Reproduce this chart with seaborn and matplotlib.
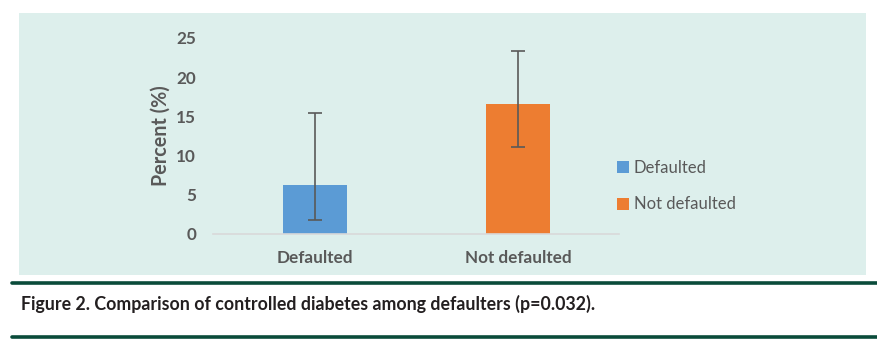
import matplotlib
matplotlib.use("Agg")
import matplotlib.pyplot as plt
import seaborn as sns
import pandas as pd
from matplotlib.patches import Rectangle
from matplotlib.lines import Line2D

categories = ["Defaulted", "Not defaulted"]
values = [6.25, 16.6]
ci_lower = [1.8, 11.05]
ci_upper = [15.4, 23.3]
yticks = [0, 5, 10, 15, 20, 25]
colors = ["#5B9BD5", "#ED7D31"]

sns.set_theme(style="white")
plt.rcParams["font.family"] = ["Lato", "DejaVu Sans"]

W, H = 878, 346
fig = plt.figure(figsize=(W / 100, H / 100), dpi=100)
fig.patch.set_facecolor("white")

# panel background
fig.patches.append(Rectangle((19 / W, 1 - 275 / H), (866 - 19) / W, (275 - 13) / H,
                             transform=fig.transFigure, facecolor="#DDEFEC",
                             edgecolor="none", zorder=-10))
# green rules
for y in (282.5, 336.5):
    fig.lines.append(Line2D([12 / W, 1.0], [1 - y / H, 1 - y / H], transform=fig.transFigure,
                            color="#0A4B3A", linewidth=2.6))

ax = fig.add_axes([213.5 / W, 1 - 234 / H, 406 / W, 196 / H])
ax.set_facecolor("none")
ax.set_zorder(5)
df = pd.DataFrame({"cat": categories, "val": values})
sns.barplot(data=df, x="cat", y="val", hue="cat", palette=colors, width=0.315,
            ax=ax, legend=False, saturation=1, zorder=2, edgecolor="none", linewidth=0)
err_lo = [v - l for v, l in zip(values, ci_lower)]
err_hi = [u - v for v, u in zip(values, ci_upper)]
ax.errorbar(range(len(categories)), values, yerr=[err_lo, err_hi], fmt="none",
            ecolor="#595959", elinewidth=1.2, capsize=5.2, capthick=1.2, zorder=3)

ax.set_xlim(-0.5, 1.5)
ax.set_ylim(0, 25)
ax.set_yticks(yticks)
ax.set_yticklabels([str(t) for t in yticks])
for s in ["top", "right", "left"]:
    ax.spines[s].set_visible(False)
ax.spines["bottom"].set_color("#D9D9D9")
ax.spines["bottom"].set_linewidth(1.2)
ax.tick_params(axis="y", length=0, pad=12.5, labelsize=12.3, labelcolor="#595959")
ax.tick_params(axis="x", length=0, pad=11.5, labelsize=12.3, labelcolor="#595959")
for lab in ax.get_xticklabels() + ax.get_yticklabels():
    lab.set_fontweight("bold")
ax.set_xlabel("")
ax.set_ylabel("Percent (%)", fontsize=14.2, fontweight="bold", color="#595959", labelpad=4)

handles = [Rectangle((0, 0), 1, 1, facecolor=c, edgecolor="none") for c in colors]
leg = fig.legend(handles, categories, loc="center left",
                 bbox_to_anchor=(602 / W, 1 - 186 / H), frameon=False,
                 fontsize=12, handlelength=0.75, handleheight=0.75,
                 handletextpad=0.25, labelspacing=1.25, labelcolor="#595959")

fig.text(21 / W, 1 - 304 / H,
         "Figure 2. Comparison of controlled diabetes among defaulters (p=0.032).",
         fontsize=12.8, fontweight="bold", color="#231F20", va="center", ha="left")

fig.savefig("out.png", dpi=100)
